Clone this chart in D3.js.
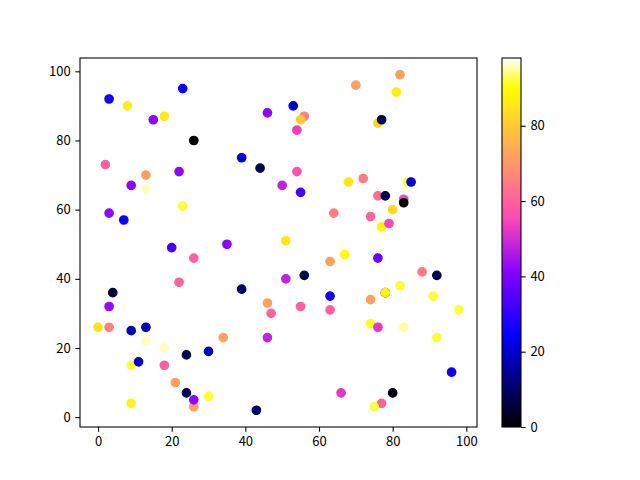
<!DOCTYPE html>
<html>
<head>
<meta charset="utf-8">
<script src="https://cdn.jsdelivr.net/npm/d3@7"></script>
<style>
  body { margin: 0; background: #fff; }
  text { font-family: "Noto Sans CJK SC", "Noto Sans", sans-serif; font-size: 13px; fill: #000; }
</style>
</head>
<body>
<div id="chart"></div>
<script>
// -------- scatter data --------------------------------- //
var xs = [0, 3, 3, 4, 3, 2, 3, 7, 8, 9, 9, 9, 9, 11, 13, 13, 13, 13, 15, 18,
  18, 18, 20, 21, 22, 22, 23, 23, 24, 24, 26, 26, 26, 26, 30, 30, 34, 35, 39, 39,
  43, 44, 46, 46, 46, 47, 50, 51, 51, 53, 54, 54, 55, 55, 56, 55, 56, 63, 63, 63,
  64, 66, 67, 68, 70, 72, 74, 74, 74, 77, 75, 76, 76, 76, 76, 77, 77, 78, 78, 78,
  79, 80, 80, 81, 82, 82, 83, 83, 83, 84, 85, 88, 92, 91, 92, 96, 98, 98];
var ys = [26, 26, 32, 36, 92, 73, 59, 57, 90, 67, 25, 15, 4, 16, 26, 22, 70, 66, 86, 87,
  20, 15, 49, 10, 71, 39, 95, 61, 18, 7, 80, 46, 3, 5, 19, 6, 23, 50, 75, 37,
  2, 72, 88, 33, 23, 30, 67, 51, 40, 90, 71, 83, 65, 32, 87, 86, 41, 45, 35, 31,
  59, 7, 47, 68, 96, 69, 34, 58, 27, 4, 3, 64, 46, 26, 85, 86, 55, 36, 36, 64,
  56, 60, 7, 94, 99, 38, 63, 62, 26, 68, 68, 42, 41, 35, 23, 13, 31, 4];
var cs = [85, 66, 43, 5, 26, 60, 42, 26, 87, 42, 18, 92, 88, 18, 18, 96, 72, 96, 42, 86,
  96, 60, 33, 72, 42, 60, 26, 92, 8, 8, 0, 60, 72, 42, 18, 92, 72, 42, 20, 10,
  10, 8, 42, 72, 48, 60, 48, 85, 48, 20, 57, 53, 33, 60, 66, 80, 8, 72, 27, 60,
  65, 52, 90, 85, 72, 65, 72, 60, 91, 60, 92, 62, 37, 52, 82, 8, 88, 5, 88, 8,
  55, 82, 1, 87, 72, 92, 55, 1, 95, 92, 20, 64, 8, 92, 92, 26, 92, 98];
var xTicks = [0, 20, 40, 60, 80, 100];
var yTicks = [0, 20, 40, 60, 80, 100];
var cTicks = [0, 20, 40, 60, 80];

// gnuplot2 colormap (same piecewise functions as matplotlib)
function clip(v) { return Math.max(0, Math.min(1, v)); }
function gnuplot2(t) {
  var r = clip(t / 0.32 - 0.78125);
  var g = clip(2 * t - 0.84);
  var b;
  if (t < 0.25) b = 4 * t;
  else if (t < 0.42) b = 1;
  else if (t < 0.92) b = -2 * t + 1.84;
  else b = t / 0.08 - 11.5;
  b = clip(b);
  return d3.rgb(r * 255, g * 255, b * 255).formatHex();
}

var W = 640, H = 480;
var plotL = 80, plotR = 477, plotT = 58, plotB = 427;
var cbL = 502, cbR = 521;

var svg = d3.select("#chart").append("svg")
  .attr("width", W).attr("height", H);

// 5% margins like matplotlib autoscale
var xmin = d3.min(xs), xmax = d3.max(xs);
var ymin = d3.min(ys), ymax = d3.max(ys);
var xpad = (xmax - xmin) * 0.05, ypad = (ymax - ymin) * 0.05;

var x = d3.scaleLinear().domain([xmin - xpad, xmax + xpad]).range([plotL, plotR]);
var y = d3.scaleLinear().domain([ymin - ypad, ymax + ypad]).range([plotB, plotT]);

var cmin = d3.min(cs), cmax = d3.max(cs);
var norm = d3.scaleLinear().domain([cmin, cmax]).range([0, 1]);
var color = function(v) { return gnuplot2(norm(v)); };

var points = xs.map(function(d, i) { return { x: d, y: ys[i], c: cs[i] }; });

svg.append("g")
  .selectAll("circle")
  .data(points)
  .join("circle")
  .attr("cx", function(d) { return x(d.x); })
  .attr("cy", function(d) { return y(d.y); })
  .attr("r", 4.2)
  .attr("fill", function(d) { return color(d.c); })
  .attr("stroke", function(d) { return color(d.c); })
  .attr("stroke-width", 1.3);

// axes
var xAxis = svg.append("g")
  .attr("transform", "translate(0," + plotB + ")")
  .call(d3.axisBottom(x).tickValues(xTicks).tickSize(4.7).tickPadding(4.7));
var yAxis = svg.append("g")
  .attr("transform", "translate(" + plotL + ",0)")
  .call(d3.axisLeft(y).tickValues(yTicks).tickSize(4.7).tickPadding(4.7));
[xAxis, yAxis].forEach(function(a) {
  a.select(".domain").remove();
  a.selectAll("line").attr("stroke", "#000").attr("stroke-width", 1.07);
  a.selectAll("text").attr("font-family", null).attr("font-size", null);
});

svg.append("rect")
  .attr("x", plotL).attr("y", plotT)
  .attr("width", plotR - plotL).attr("height", plotB - plotT)
  .attr("fill", "none").attr("stroke", "#000").attr("stroke-width", 1.07);

// colorbar
var defs = svg.append("defs");
var grad = defs.append("linearGradient")
  .attr("id", "cbar").attr("x1", 0).attr("y1", 1).attr("x2", 0).attr("y2", 0);
grad.selectAll("stop")
  .data(d3.range(0, 1.0001, 0.01))
  .join("stop")
  .attr("offset", function(d) { return d; })
  .attr("stop-color", function(d) { return gnuplot2(d); });

svg.append("rect")
  .attr("x", cbL).attr("y", plotT)
  .attr("width", cbR - cbL).attr("height", plotB - plotT)
  .attr("fill", "url(#cbar)")
  .attr("stroke", "#000").attr("stroke-width", 1.07);

var cScale = d3.scaleLinear().domain([cmin, cmax]).range([plotB, plotT]);
var cAxis = svg.append("g")
  .attr("transform", "translate(" + cbR + ",0)")
  .call(d3.axisRight(cScale).tickValues(cTicks).tickSize(4.7).tickPadding(4.7));
cAxis.select(".domain").remove();
cAxis.selectAll("line").attr("stroke", "#000").attr("stroke-width", 1.07);
cAxis.selectAll("text").attr("font-family", null).attr("font-size", null);
</script>
</body>
</html>
